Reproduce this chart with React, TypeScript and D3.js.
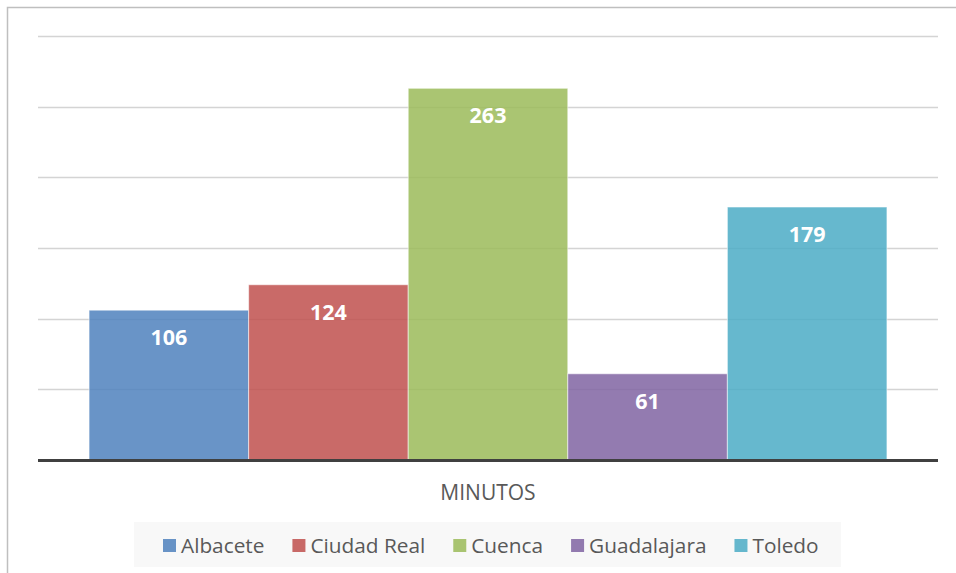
import { useEffect, useRef } from 'react'
import * as d3 from 'd3'

const categories = ['MINUTOS']
const seriesNames = ['Albacete', 'Ciudad Real', 'Cuenca', 'Guadalajara', 'Toledo']
const seriesValues = [106, 124, 263, 61, 179]
const seriesColors = ['#4F81BD', '#C0504D', '#9BBB59', '#8064A2', '#4BACC6']
const yTicks = [0, 50, 100, 150, 200, 250, 300]

const WIDTH = 956
const HEIGHT = 573
const FONT = '"Open Sans", "Noto Sans", sans-serif'

export default function App() {
  const svgRef = useRef<SVGSVGElement>(null)

  useEffect(() => {
    if (!svgRef.current) return
    const svg = d3.select(svgRef.current)
    svg.selectAll('*').remove()

    const plot = { left: 38, right: 938, top: 36, bottom: 460 }

    // chart frame (only left and top edges are visible in the crop)
    svg.append('rect')
      .attr('x', 7.5)
      .attr('y', 7.5)
      .attr('width', WIDTH + 20)
      .attr('height', HEIGHT + 20)
      .attr('fill', '#fff')
      .attr('stroke', '#bfbfbf')
      .attr('stroke-width', 1.5)

    const y = d3.scaleLinear()
      .domain([0, 300])
      .range([plot.bottom, plot.top])

    const x0 = d3.scaleBand<string>()
      .domain(categories)
      .range([plot.left, plot.right])
      .paddingInner(0)
      .paddingOuter(0.064)

    const x1 = d3.scaleBand<string>()
      .domain(seriesNames)
      .range([0, x0.bandwidth()])
      .padding(0)

    // gridlines
    svg.append('g')
      .selectAll('line')
      .data(yTicks.filter(t => t > 0))
      .enter()
      .append('line')
      .attr('x1', plot.left)
      .attr('x2', plot.right)
      .attr('y1', d => Math.round(y(d)) + 0.5)
      .attr('y2', d => Math.round(y(d)) + 0.5)
      .attr('stroke', '#d4d4d4')
      .attr('stroke-width', 1.5)

    const group = svg.append('g')
      .attr('transform', `translate(${x0(categories[0])},0)`)

    group.selectAll('rect')
      .data(seriesValues)
      .enter()
      .append('rect')
      .attr('x', (_, i) => x1(seriesNames[i])!)
      .attr('y', d => y(d))
      .attr('width', x1.bandwidth())
      .attr('height', d => plot.bottom - y(d))
      .attr('fill', (_, i) => seriesColors[i])
      .attr('fill-opacity', 0.85)
      .attr('stroke', 'rgba(255,255,255,0.55)')
      .attr('stroke-width', 1)

    group.selectAll('text')
      .data(seriesValues)
      .enter()
      .append('text')
      .attr('x', (_, i) => x1(seriesNames[i])! + x1.bandwidth() / 2)
      .attr('y', d => y(d) + 35)
      .attr('text-anchor', 'middle')
      .attr('fill', '#fff')
      .style('font-family', FONT)
      .style('font-size', '21.5px')
      .style('font-weight', '700')
      .text(d => d)

    // axis baseline
    svg.append('line')
      .attr('x1', plot.left)
      .attr('x2', plot.right)
      .attr('y1', y(0) + 0.5)
      .attr('y2', y(0) + 0.5)
      .attr('stroke', '#404040')
      .attr('stroke-width', 3)

    svg.append('text')
      .attr('x', x0(categories[0])! + x0.bandwidth() / 2)
      .attr('y', 500)
      .attr('text-anchor', 'middle')
      .attr('fill', '#595959')
      .style('font-family', FONT)
      .style('font-size', '21px')
      .text(categories[0])

    // legend
    const legend = svg.append('g')
    legend.append('rect')
      .attr('x', 134)
      .attr('y', 522)
      .attr('width', 707)
      .attr('height', 45)
      .attr('fill', '#f8f8f8')

    let lx = 163
    seriesNames.forEach((name, i) => {
      legend.append('rect')
        .attr('x', lx)
        .attr('y', 539)
        .attr('width', 13)
        .attr('height', 13)
        .attr('fill', seriesColors[i])
        .attr('fill-opacity', 0.85)
      const t = legend.append('text')
        .attr('x', lx + 18)
        .attr('y', 552.5)
        .attr('fill', '#595959')
        .style('font-family', FONT)
        .style('font-size', '20.8px')
        .text(name)
      const w = (t.node() as SVGTextElement).getComputedTextLength()
      lx += 18 + w + 28
    })
  }, [])

  return (
    <svg
      ref={svgRef}
      width={WIDTH}
      height={HEIGHT}
      style={{ position: 'absolute', left: 0, top: 0, background: '#fff' }}
    />
  )
}
